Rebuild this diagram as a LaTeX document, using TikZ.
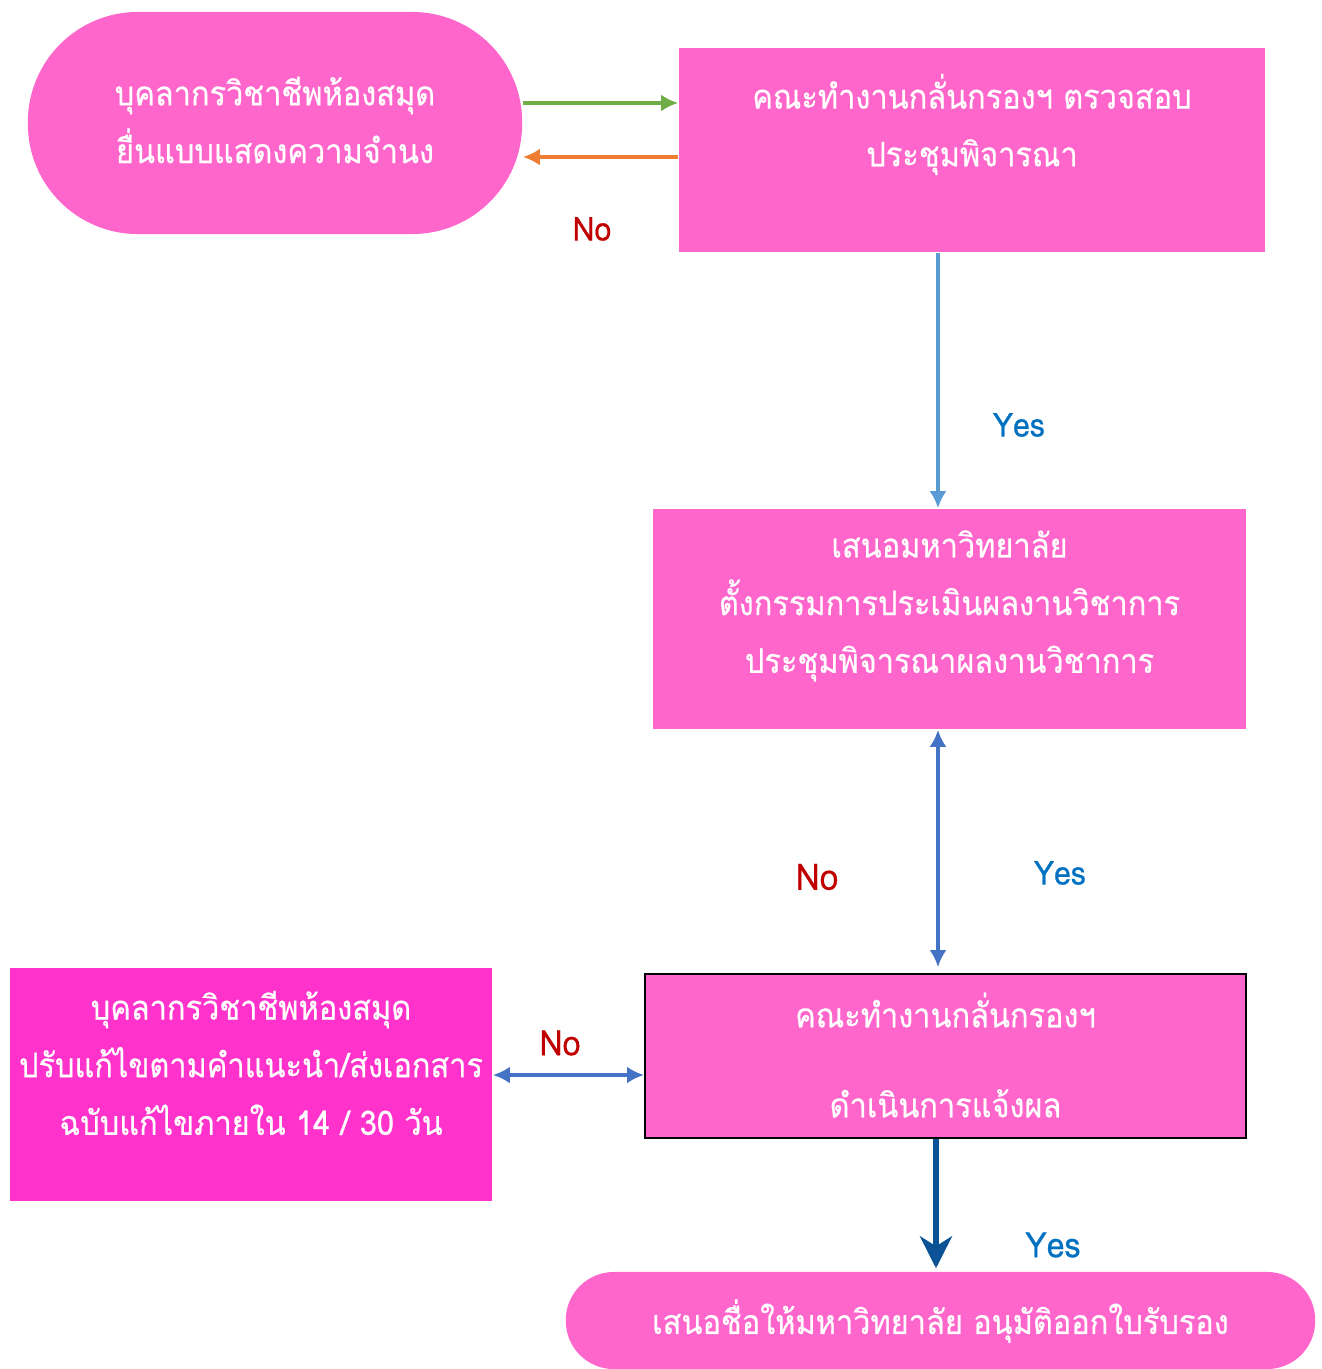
\documentclass[tikz,border=0pt]{standalone}
\usepackage{fontspec}
\setmainfont[Script=Thai, FakeStretch=0.91, FakeBold=0.5]{Loma}
\usetikzlibrary{positioning,arrows.meta}

\definecolor{boxpink}{HTML}{FF66CC}
\definecolor{hotpink}{HTML}{FF33CC}
\definecolor{okgreen}{HTML}{70AD47}
\definecolor{backorange}{HTML}{ED7D31}
\definecolor{lightblue}{HTML}{5B9BD5}
\definecolor{midblue}{HTML}{4472C4}
\definecolor{darkblue}{HTML}{0B5394}
\definecolor{yesblue}{HTML}{0070C0}
\definecolor{nored}{HTML}{C00000}

\tikzset{
  pinkbox/.style={fill=boxpink, inner sep=0pt},
  roundbox/.style={pinkbox, rounded corners=1.1cm},
  thtext/.style={text=white, align=center, font=\fontsize{9.6}{16.4}\selectfont},
  yeslbl/.style={text=yesblue, font=\fontsize{9.4}{11}\selectfont},
  nolbl/.style={text=nored, font=\fontsize{9.4}{11}\selectfont},
  oneway/.style={line width=1.15pt, -{Latex[length=0.17cm,width=0.17cm]}},
  twoway/.style={line width=1.15pt, {Latex[length=0.17cm,width=0.17cm]}-{Latex[length=0.17cm,width=0.17cm]}}
}

\begin{document}
\begin{tikzpicture}[x=0.01cm, y=-0.01cm]
\useasboundingbox (0,0) rectangle (1322,1369);

% boxes
\node[roundbox, minimum width=4.94cm, minimum height=2.22cm] (start) at (275,123) {};
\node[pinkbox, minimum width=5.86cm, minimum height=2.04cm] (check) at (972,150) {};
\node[pinkbox, minimum width=5.93cm, minimum height=2.20cm] (panel) at (949.5,619) {};
\node[pinkbox, draw=black, line width=0.45pt, minimum width=6.01cm, minimum height=1.64cm] (notify) at (945.5,1056) {};
\node[pinkbox, fill=hotpink, minimum width=4.82cm, minimum height=2.33cm] (fix) at (251,1084.5) {};
\node[roundbox, rounded corners=0.48cm, minimum width=7.49cm, minimum height=0.97cm] (approve) at (940.5,1320.5) {};

% texts of the boxes
\node[thtext] (starttxt) at (275,120) {บุคลากรวิชาชีพห้องสมุด\\ยื่นแบบแสดงความจำนง};
\node[thtext] (checktxt) at (972,124.5) {คณะทำงานกลั่นกรองฯ ตรวจสอบ\\ประชุมพิจารณา};
\node[thtext] (paneltxt) at (949.5,606) {เสนอมหาวิทยาลัย\\ตั้งกรรมการประเมินผลงานวิชาการ\\ประชุมพิจารณาผลงานวิชาการ};
\node[thtext] (notifytxt) at (945.5,1055) {คณะทำงานกลั่นกรองฯ\\[9.2pt]ดำเนินการแจ้งผล};
\node[thtext] (fixtxt) at (251,1063) {บุคลากรวิชาชีพห้องสมุด\\ปรับแก้ไขตามคำแนะนำ/ส่งเอกสาร\\ฉบับแก้ไขภายใน 14 / 30 วัน};
\node[thtext] (approvetxt) at (940.5,1321) {เสนอชื่อให้มหาวิทยาลัย อนุมัติออกใบรับรอง};

% connectors
\draw[oneway, okgreen] ([yshift=0.2cm]start.east) -- ([yshift=0.2cm]start.east -| check.west);
\draw[oneway, backorange] ([yshift=-0.34cm]start.east -| check.west) -- ([yshift=-0.34cm]start.east);
\draw[oneway, lightblue] ([xshift=-0.34cm]check.south) -- ([xshift=-0.34cm]check.south |- panel.north);
\draw[twoway, midblue, shorten >=0.06cm] ([xshift=-0.115cm]panel.south) -- ([xshift=-0.115cm]panel.south |- notify.north);
\draw[twoway, midblue] ([yshift=-0.19cm]notify.west) -- ([yshift=-0.19cm]notify.west -| fix.east);
\draw[line width=1.6pt, darkblue, -{Stealth[length=0.32cm,width=0.32cm,inset=0.1cm]}, shorten >=0.03cm]
  ([xshift=-0.095cm]notify.south) -- ([xshift=-0.095cm]notify.south |- approve.north);

% yes / no
\node[nolbl] (no1) at (592,229) {No};
\node[yeslbl] (yes1) at (1019,425) {Yes};
\node[nolbl, font=\fontsize{10.4}{12}\selectfont] (no2) at (817,877) {No};
\node[yeslbl] (yes2) at (1060,873) {Yes};
\node[nolbl, font=\fontsize{10}{12}\selectfont] (no3) at (560,1043) {No};
\node[yeslbl, font=\fontsize{10}{12}\selectfont] (yes3) at (1053,1245) {Yes};
\end{tikzpicture}
\end{document}
